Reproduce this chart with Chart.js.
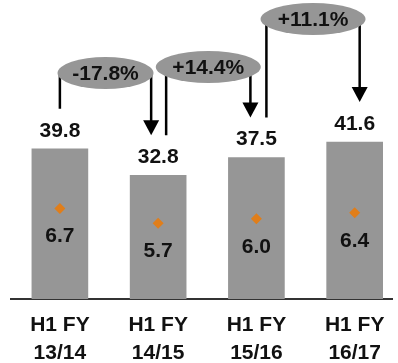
<!DOCTYPE html>
<html>
<head>
<meta charset="utf-8">
<script src="https://cdn.jsdelivr.net/npm/chart.js@4"></script>
<style>
  html, body { margin: 0; padding: 0; background: #fff; }
  #wrap { width: 398px; height: 363px; }
</style>
</head>
<body>
<div id="wrap"><canvas id="c" width="398" height="363"></canvas></div>
<script>
// data
const categories = [['H1 FY', '13/14'], ['H1 FY', '14/15'], ['H1 FY', '15/16'], ['H1 FY', '16/17']];
const totals = [39.8, 32.8, 37.5, 41.6];
const inner = [6.7, 5.7, 6.0, 6.4];
const changes = ['-17.8%', '+14.4%', '+11.1%'];

// look of the change bubbles (pixel offsets only)
const bubbleY = [73, 67, 19];
const bubbleW = [96, 105, 105];
const fromDx = [0, 8, 10];
const toDx = [-7, -6, 5];

const GREY = '#969696';
const FAMILY = '"Liberation Sans", Arial, sans-serif';
const FONT = 'bold 21px ' + FAMILY;

// labels + bubbles + arrows
const overlay = {
  id: 'overlay',
  afterDatasetsDraw(chart) {
    const ctx = chart.ctx;
    const bars = chart.getDatasetMeta(0).data;
    const pts = chart.getDatasetMeta(1).data;
    ctx.save();
    ctx.font = FONT;
    ctx.fillStyle = '#111';
    ctx.textAlign = 'center';
    ctx.textBaseline = 'middle';
    bars.forEach((b, i) => ctx.fillText(totals[i].toFixed(1), b.x, b.y - 18));
    pts.forEach((p, i) => ctx.fillText(inner[i].toFixed(1), p.x, p.y + 28));

    changes.forEach((txt, i) => {
      const a = bars[i], b = bars[i + 1];
      const x1 = a.x + fromDx[i], x2 = b.x + toDx[i];
      const yc = bubbleY[i];
      const y1 = a.y - 40, y2 = b.y - 40;
      ctx.strokeStyle = '#000';
      ctx.lineWidth = 2.5;
      ctx.beginPath();
      ctx.moveTo(x1, yc); ctx.lineTo(x1, y1);
      ctx.moveTo(x2, yc); ctx.lineTo(x2, y2 - 14);
      ctx.stroke();
      ctx.fillStyle = '#000';
      ctx.beginPath();
      ctx.moveTo(x2 - 8, y2 - 15);
      ctx.lineTo(x2 + 8, y2 - 15);
      ctx.lineTo(x2, y2);
      ctx.closePath();
      ctx.fill();
      const cx = (x1 + x2) / 2;
      ctx.fillStyle = GREY;
      ctx.beginPath();
      ctx.ellipse(cx, yc, bubbleW[i] / 2, 16, 0, 0, Math.PI * 2);
      ctx.fill();
      ctx.fillStyle = '#111';
      ctx.fillText(txt, cx, yc + 1);
    });
    ctx.restore();
  }
};

new Chart(document.getElementById('c'), {
  type: 'bar',
  data: {
    datasets: [
      { data: totals.map((v, i) => ({ x: i, y: v })), backgroundColor: GREY, barThickness: 56, yAxisID: 'y', order: 2 },
      { type: 'line', data: inner.map((v, i) => ({ x: i, y: v })), yAxisID: 'y2', showLine: false, pointStyle: 'rectRot',
        pointRadius: 5.5, pointBackgroundColor: '#E07E1A', pointBorderWidth: 0, order: 1 }
    ]
  },
  options: {
    responsive: false,
    animation: false,
    layout: { padding: { left: 11, right: 0, top: 0, bottom: 0 } },
    plugins: { legend: { display: false }, tooltip: { enabled: false } },
    scales: {
      x: {
        type: 'linear',
        offset: false,
        min: -0.4975,
        max: 3.385,
        grid: { display: false, drawTicks: false, offset: false },
        border: { display: true, color: '#333', width: 2 },
        afterBuildTicks: s => { s.ticks = categories.map((c, i) => ({ value: i })); },
        ticks: {
          color: '#111', padding: 12, autoSkip: false, maxRotation: 0,
          font: { family: FAMILY, size: 21, weight: 'bold', lineHeight: 1.33 },
          callback: v => categories[v]
        },
        afterFit: s => { s.height = 64; }
      },
      y: { display: false, min: 0, max: 77.8 },
      y2: { display: false, min: 0.547, max: 20.48 }
    }
  },
  plugins: [overlay]
});
</script>
</body>
</html>
